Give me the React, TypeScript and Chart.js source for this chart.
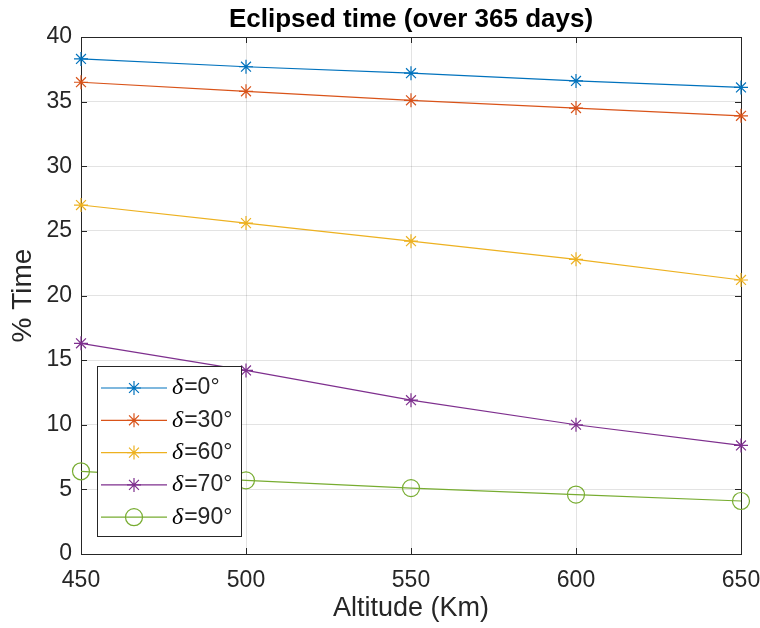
import React, { useEffect, useRef } from "react";
import { Chart, registerables } from "chart.js";

Chart.register(...registerables);

const altitudes = [450, 500, 550, 600, 650];
const delta0 = [38.3, 37.7, 37.2, 36.6, 36.1];
const delta30 = [36.5, 35.8, 35.1, 34.5, 33.9];
const delta60 = [27.0, 25.6, 24.2, 22.8, 21.2];
const delta70 = [16.3, 14.2, 11.9, 10.0, 8.4];
const delta90 = [6.4, 5.7, 5.1, 4.6, 4.1];
const seriesLabels = ["=0°", "=30°", "=60°", "=70°", "=90°"];
const seriesColors = ["#0072BD", "#D95319", "#EDB120", "#7E2F8E", "#77AC30"];
const seriesMarkers = ["star", "star", "star", "star", "circle"];
const titleText = "Eclipsed time (over 365 days)";
const xLabel = "Altitude (Km)";
const yLabel = "% Time";

const AXIS = "#262626";
const SANS = "'Liberation Sans', Arial, Helvetica, sans-serif";

const boxPlugin = {
  id: "matlabBox",
  beforeDatasetsDraw(chart: any) {
    const { ctx, chartArea: a, scales } = chart;
    ctx.save();
    ctx.strokeStyle = AXIS;
    ctx.lineWidth = 1;
    const tl = 6;
    ctx.beginPath();
    scales.x.ticks.forEach((t: any) => {
      const px = Math.round(scales.x.getPixelForValue(t.value)) + 0.5;
      ctx.moveTo(px, a.bottom);
      ctx.lineTo(px, a.bottom - tl);
      ctx.moveTo(px, a.top);
      ctx.lineTo(px, a.top + tl);
    });
    scales.y.ticks.forEach((t: any) => {
      const py = Math.round(scales.y.getPixelForValue(t.value)) + 0.5;
      ctx.moveTo(a.left, py);
      ctx.lineTo(a.left + tl, py);
      ctx.moveTo(a.right, py);
      ctx.lineTo(a.right - tl, py);
    });
    ctx.stroke();
    ctx.strokeRect(Math.round(a.left) + 0.5, Math.round(a.top) + 0.5, Math.round(a.right - a.left), Math.round(a.bottom - a.top));
    ctx.restore();
  },
  afterDraw(chart: any) {
    const { ctx, chartArea: a } = chart;
    ctx.save();
    ctx.fillStyle = "#000";
    ctx.font = `bold 26px ${SANS}`;
    ctx.textAlign = "center";
    ctx.textBaseline = "middle";
    ctx.fillText(titleText, (a.left + a.right) / 2, 20);
    ctx.restore();
  },
};

function drawMarker(ctx: CanvasRenderingContext2D, style: string, x: number, y: number, r: number) {
  ctx.beginPath();
  if (style === "circle") {
    ctx.arc(x, y, r, 0, Math.PI * 2);
  } else {
    ctx.moveTo(x - r, y);
    ctx.lineTo(x + r, y);
    ctx.moveTo(x, y - r);
    ctx.lineTo(x, y + r);
    const d = r * Math.SQRT1_2;
    ctx.moveTo(x - d, y - d);
    ctx.lineTo(x + d, y + d);
    ctx.moveTo(x - d, y + d);
    ctx.lineTo(x + d, y - d);
  }
  ctx.stroke();
}

const legendPlugin = {
  id: "matlabLegend",
  afterDatasetsDraw(chart: any) {
    const { ctx } = chart;
    const bx = 97, by = 366, bw = 144, bh = 170;
    ctx.save();
    ctx.fillStyle = "#fff";
    ctx.fillRect(bx, by, bw, bh);
    ctx.strokeStyle = AXIS;
    ctx.lineWidth = 1;
    ctx.strokeRect(bx + 0.5, by + 0.5, bw, bh);
    chart.data.datasets.forEach((ds: any, i: number) => {
      const y = by + 22 + i * 32.3;
      ctx.strokeStyle = ds.borderColor;
      ctx.lineWidth = 1.2;
      ctx.beginPath();
      ctx.moveTo(101, y);
      ctx.lineTo(167, y);
      ctx.stroke();
      drawMarker(ctx, ds.pointStyle, 134, y, ds.pointStyle === "circle" ? 8.5 : 7);
      ctx.fillStyle = "#000";
      ctx.textBaseline = "middle";
      ctx.textAlign = "left";
      ctx.font = `italic 24px 'Liberation Serif', 'DejaVu Serif', serif`;
      ctx.fillText("δ", 172, y);
      const w = ctx.measureText("δ").width;
      ctx.fillStyle = AXIS;
      ctx.font = `23px ${SANS}`;
      ctx.fillText(ds.label, 172 + w + 1, y);
    });
    ctx.restore();
  },
};

export default function App() {
  const ref = useRef<HTMLCanvasElement>(null);
  useEffect(() => {
    const series = [delta0, delta30, delta60, delta70, delta90];
    const chart = new Chart(ref.current!, {
      type: "line",
      data: {
        datasets: series.map((vals, i) => ({
          label: seriesLabels[i],
          data: altitudes.map((x, j) => ({ x, y: vals[j] })),
          borderColor: seriesColors[i],
          backgroundColor: "transparent",
          borderWidth: 1.2,
          pointStyle: seriesMarkers[i] as any,
          pointRadius: seriesMarkers[i] === "circle" ? 8.5 : 7,
          pointBorderWidth: 1.2,
          pointBorderColor: seriesColors[i],
          pointBackgroundColor: "transparent",
          clip: false as any,
          tension: 0,
        })),
      },
      options: {
        animation: false,
        responsive: false,
        events: [],
        layout: { padding: { top: 37, right: 19, left: 0, bottom: 0 } },
        plugins: { legend: { display: false }, title: { display: false }, tooltip: { enabled: false } },
        scales: {
          x: {
            type: "linear",
            min: 450,
            max: 650,
            ticks: { stepSize: 50, color: AXIS, font: { family: SANS, size: 23 }, padding: 13, maxRotation: 0 },
            grid: { color: "rgba(38,38,38,0.13)", drawTicks: false },
            border: { display: false },
            title: { display: true, text: xLabel, color: AXIS, font: { family: SANS, size: 27, lineHeight: 1 }, padding: { bottom: 6, top: 0 } },
            afterFit: (s: any) => { s.height = 74; s.paddingLeft = 0; s.paddingRight = 0; },
          },
          y: {
            min: 0,
            max: 40,
            ticks: { stepSize: 5, color: AXIS, font: { family: SANS, size: 23 }, padding: 9 },
            grid: { color: "rgba(38,38,38,0.13)", drawTicks: false },
            border: { display: false },
            title: { display: true, text: yLabel, color: AXIS, font: { family: SANS, size: 28, lineHeight: 1 }, padding: { top: 9, bottom: 0 } },
            afterFit: (s: any) => { s.width = 81; s.paddingTop = 0; s.paddingBottom = 0; },
          },
        },
      },
      plugins: [boxPlugin, legendPlugin],
    });
    return () => chart.destroy();
  }, []);
  return (
    <div style={{ position: "fixed", left: 0, top: 0, width: 760, height: 628, background: "#fff" }}>
      <canvas ref={ref} width={760} height={628} style={{ width: 760, height: 628, display: "block" }} />
    </div>
  );
}
